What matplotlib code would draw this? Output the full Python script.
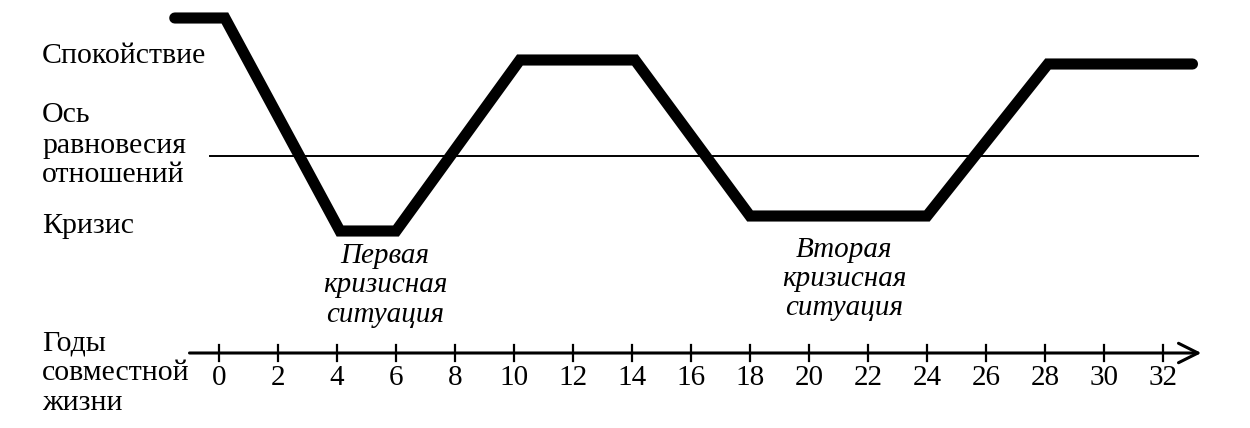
import matplotlib
matplotlib.use("Agg")
import matplotlib.pyplot as plt

# state of relations over years of married life
years = [-1.5, 0.2, 4.1, 6.0, 10.2, 14.1, 18.0, 24.0, 28.1, 33.0]
state = [13.8, 13.8, -7.5, -7.5, 9.6, 9.6, -6.0, -6.0, 9.2, 9.2]

ticks = list(range(0, 33, 2))
axis_y = -19.7

left_labels = [("Спокойствие", 9.3), ("Ось", 3.4), ("равновесия", 0.3),
               ("отношений", -2.6), ("Кризис", -7.7),
               ("Годы", -19.4), ("совместной", -22.4), ("жизни", -25.4)]
crisis1 = ["Первая", "кризисная", "ситуация"]
crisis2 = ["Вторая", "кризисная", "ситуация"]

plt.rcParams["font.family"] = ["Liberation Serif", "DejaVu Serif"]

fig = plt.figure(figsize=(12.5, 4.28), dpi=100)
ax = fig.add_axes([0, 0, 1, 1])
ax.set_xlim(-219 / 29.5, (1250 - 219) / 29.5)
ax.set_ylim(-27.2, 15.6)
ax.axis("off")

# equilibrium axis
ax.plot([-0.3, 33.2], [0, 0], color="black", lw=1.4)

# main curve
ax.plot(years, state, color="black", lw=8, solid_capstyle="round",
        solid_joinstyle="miter")

# time axis with arrow
ax.annotate("", xy=(33.3, axis_y), xytext=(-1.0, axis_y),
            arrowprops=dict(arrowstyle="->", lw=2.2, color="black",
                            mutation_scale=35, shrinkA=0, shrinkB=0))
for t in ticks:
    ax.plot([t, t], [axis_y - 0.8, axis_y + 0.8], color="black", lw=1.6)
    ax.text(t, -22.9, str(t), ha="center", va="baseline", fontsize=21)

for s, y in left_labels:
    ax.text(-6.0, y, s, ha="left", va="baseline", fontsize=21.5)

for i, s in enumerate(crisis1):
    ax.text(5.63, -10.7 - 2.95 * i, s, ha="center", va="baseline",
            fontsize=21, style="italic")
for i, s in enumerate(crisis2):
    ax.text(21.2, -10.1 - 2.9 * i, s, ha="center", va="baseline",
            fontsize=21, style="italic")

fig.savefig("out.png", dpi=100, facecolor="white")
